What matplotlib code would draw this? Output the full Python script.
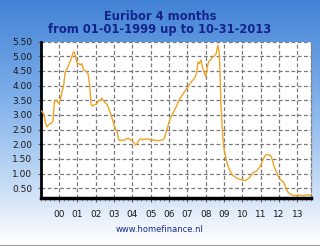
import numpy as np
import matplotlib
matplotlib.use("Agg")
import matplotlib.pyplot as plt
from matplotlib.colors import LinearSegmentedColormap
from matplotlib.ticker import MultipleLocator, FixedLocator

# Euribor 4 months, monthly values Jan 1999 .. Oct 2013
rates_1999 = [3.15, 3.10, 3.05, 2.75, 2.60, 2.65, 2.70, 2.72, 2.78, 3.45, 3.50, 3.45]
rates_2000 = [3.38, 3.55, 3.80, 4.00, 4.45, 4.55, 4.65, 4.80, 4.90, 5.10, 5.15, 4.95]
rates_2001 = [4.72, 4.75, 4.70, 4.75, 4.55, 4.50, 4.48, 4.40, 4.05, 3.35, 3.30, 3.35]
rates_2002 = [3.35, 3.40, 3.50, 3.48, 3.57, 3.50, 3.42, 3.38, 3.30, 3.15, 3.00, 2.85]
rates_2003 = [2.65, 2.50, 2.45, 2.15, 2.12, 2.15, 2.12, 2.15, 2.18, 2.20, 2.18, 2.15]
rates_2004 = [2.10, 2.05, 1.98, 2.00, 2.12, 2.18, 2.18, 2.15, 2.17, 2.18, 2.18, 2.17]
rates_2005 = [2.15, 2.15, 2.14, 2.14, 2.13, 2.12, 2.13, 2.14, 2.15, 2.20, 2.40, 2.55]
rates_2006 = [2.75, 2.90, 3.00, 3.10, 3.20, 3.30, 3.45, 3.55, 3.62, 3.70, 3.78, 3.85]
rates_2007 = [3.92, 4.00, 4.08, 4.15, 4.20, 4.28, 4.40, 4.80, 4.75, 4.87, 4.60, 4.45]
rates_2008 = [4.30, 4.60, 4.82, 4.85, 4.95, 4.98, 5.02, 5.10, 5.38, 5.10, 3.40, 2.40]
rates_2009 = [1.85, 1.60, 1.35, 1.20, 1.10, 1.00, 0.93, 0.90, 0.86, 0.83, 0.82, 0.80]
rates_2010 = [0.78, 0.77, 0.77, 0.80, 0.83, 0.88, 0.95, 1.03, 1.06, 1.08, 1.12, 1.20]
rates_2011 = [1.28, 1.40, 1.52, 1.62, 1.65, 1.64, 1.62, 1.58, 1.40, 1.22, 1.10, 0.98]
rates_2012 = [0.85, 0.80, 0.75, 0.72, 0.60, 0.45, 0.36, 0.32, 0.29, 0.27, 0.26, 0.25]
rates_2013 = [0.26, 0.27, 0.26, 0.25, 0.25, 0.26, 0.27, 0.27, 0.27, 0.27]

rates = (rates_1999 + rates_2000 + rates_2001 + rates_2002 + rates_2003 + rates_2004 +
         rates_2005 + rates_2006 + rates_2007 + rates_2008 + rates_2009 + rates_2010 +
         rates_2011 + rates_2012 + rates_2013)

year_labels = ["00", "01", "02", "03", "04", "05", "06", "07", "08", "09", "10", "11", "12", "13"]
y_ticks = [0.5, 1.0, 1.5, 2.0, 2.5, 3.0, 3.5, 4.0, 4.5, 5.0, 5.5]

title_line1 = "Euribor 4 months"
title_line2 = "from 01-01-1999 up to 10-31-2013"
footer = "www.homefinance.nl"

W, H = 320, 246
fig = plt.figure(figsize=(W / 100, H / 100), dpi=100)

# background gradient
bg = fig.add_axes([0, 0, 1, 1], zorder=0)
cmap = LinearSegmentedColormap.from_list(
    "bg", [(0.0, "#4282d6"), (0.4, "#80b0ea"), (0.75, "#c6dcf5"), (0.94, "#f4f8fd"), (1.0, "#ffffff")])
grad = np.linspace(0, 1, 256).reshape(-1, 1)
bg.imshow(grad, aspect="auto", cmap=cmap, extent=[0, 1, 0, 1], origin="upper")
bg.plot([0, 1], [0.5 / H, 0.5 / H], color="#a0a0a0", lw=1.5)
bg.set_xlim(0, 1)
bg.set_ylim(0, 1)
bg.axis("off")

left, right = 40.7 / W, 311.0 / W
top, bottom = 1 - 41.5 / H, 1 - 197.7 / H
ax = fig.add_axes([left, bottom, right - left, top - bottom], zorder=1)
ax.set_facecolor("white")

x = np.arange(len(rates))
ax.plot(x, rates, color="#f0a424", lw=1.0, zorder=3, solid_joinstyle="round")

ax.set_xlim(0, len(rates) - 1)
ax.set_ylim(0.18, 5.5)

year_pos = [12 * (i + 1) for i in range(len(year_labels))]
ax.xaxis.set_major_locator(FixedLocator(year_pos))
ax.set_xticklabels(year_labels)
ax.xaxis.set_minor_locator(MultipleLocator(3))
ax.yaxis.set_major_locator(FixedLocator(y_ticks))
ax.set_yticklabels([f"{v:.2f}" for v in y_ticks])

ax.grid(True, which="major", color="#787878", linestyle=(0, (3, 2)), lw=0.9, zorder=1)
ax.tick_params(axis="x", which="major", length=3, width=0.8, color="#606060",
               labelsize=6.5, labelcolor="#1a1a1a", pad=6)
ax.tick_params(axis="x", which="minor", length=2, width=0.6, color="#808080")
ax.tick_params(axis="y", which="major", length=2, width=0.8, color="#606060",
               labelsize=6.5, labelcolor="#1a1a1a", pad=4)

ax.spines["top"].set_visible(False)
ax.spines["right"].set_color("#808080")
ax.spines["right"].set_linestyle((0, (3, 2)))
ax.spines["right"].set_linewidth(0.9)
ax.spines["left"].set_color("black")
ax.spines["left"].set_linewidth(2)
ax.spines["bottom"].set_color("black")
ax.spines["bottom"].set_linewidth(2.5)

fig.text(0.5, 1 - 17 / H, title_line1, ha="center", va="center",
         fontsize=8.3, fontweight="bold", color="#14238c", family="DejaVu Sans")
fig.text(0.5, 1 - 30 / H, title_line2, ha="center", va="center",
         fontsize=8.3, fontweight="bold", color="#14238c", family="DejaVu Sans")
fig.text(0.5, 1 - 229 / H, footer, ha="center", va="center",
         fontsize=6, color="#1a2a90", family="DejaVu Sans")

fig.savefig("out.png", dpi=100)
